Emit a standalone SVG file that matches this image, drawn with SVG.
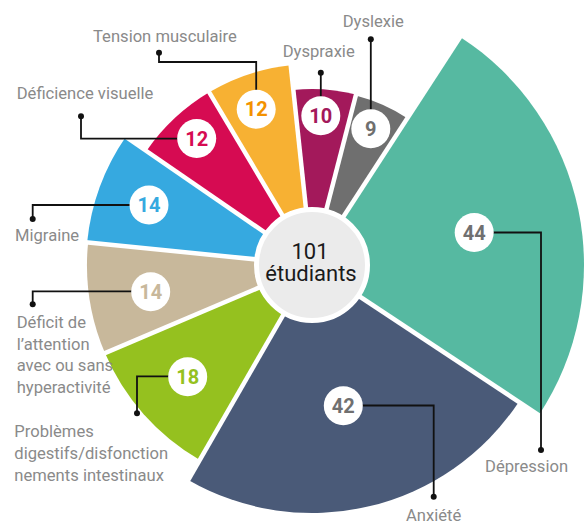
<svg xmlns="http://www.w3.org/2000/svg" width="585" height="523" viewBox="0 0 585 523">
<style>
.lbl{font-family:Roboto,"Liberation Sans",sans-serif;font-size:16.6px;fill:#8a8a8a}
.num{font-family:Roboto,"Liberation Sans",sans-serif;font-size:20px;font-weight:bold;text-anchor:middle}
.bub{fill:#ffffff}
.lead{fill:none;stroke:#111111;stroke-width:1.8}
.dot{fill:#111111}
.sep{stroke:#ffffff;stroke-width:4.5}
.ctr{font-family:Roboto,"Liberation Sans",sans-serif;font-size:22px;fill:#1a1a1a;text-anchor:middle}
</style>
<rect width="585" height="523" fill="#ffffff"/>
<g id="wedges">
<path id="w-depression" d="M312,265 L460.14,36.88 A272,272 0 0 1 538.80,415.15 Z" fill="#56b9a1"/>
<path id="w-anxiete" d="M312,265 L518.79,401.90 A248,248 0 0 1 188.32,479.96 Z" fill="#4a5a78"/>
<path id="w-problemes" d="M312,265 L199.79,460.03 A225,225 0 0 1 104.98,353.12 Z" fill="#95c11f"/>
<path id="w-deficit" d="M312,265 L104.98,353.12 A225,225 0 0 1 88.13,242.48 Z" fill="#c8b89b"/>
<path id="w-migraine" d="M312,265 L87.13,242.38 A226,226 0 0 1 125.83,136.86 Z" fill="#36a9e0"/>
<path id="w-deficience" d="M312,265 L146.43,151.03 A201,201 0 0 1 209.16,92.30 Z" fill="#d60b52"/>
<path id="w-tension" d="M312,265 L209.16,92.30 A201,201 0 0 1 290.69,65.13 Z" fill="#f7b133"/>
<path id="w-dyspraxie" d="M312,265 L293.34,89.99 A176,176 0 0 1 356.02,94.60 Z" fill="#a3195b"/>
<path id="w-dyslexie" d="M312,265 L355.77,95.56 A175,175 0 0 1 407.31,118.23 Z" fill="#6f6f6f"/>
</g>
<g id="separators">
<line class="sep" x1="312" y1="265" x2="464.50" y2="30.17"/>
<line class="sep" x1="312" y1="265" x2="545.48" y2="419.56"/>
<line class="sep" x1="312" y1="265" x2="172.36" y2="507.70"/>
<line class="sep" x1="312" y1="265" x2="54.37" y2="374.66"/>
<line class="sep" x1="312" y1="265" x2="33.41" y2="236.98"/>
<line class="sep" x1="312" y1="265" x2="81.35" y2="106.24"/>
<line class="sep" x1="312" y1="265" x2="168.74" y2="24.42"/>
<line class="sep" x1="312" y1="265" x2="282.31" y2="-13.42"/>
<line class="sep" x1="312" y1="265" x2="382.04" y2="-6.10"/>
</g>
<g id="center">
<circle cx="312" cy="265" r="55.5" fill="#ebebeb" stroke="#ffffff" stroke-width="5"/>
<text class="ctr" x="310" y="258.5">101</text>
<text class="ctr" x="311" y="280.5">étudiants</text>
</g>
<g id="connectors">
<path class="lead" d="M474,232.5 H541 V450"/><circle class="dot" cx="541" cy="450" r="3"/>
<path class="lead" d="M343.3,405.5 H433.7 V496.7"/><circle class="dot" cx="433.7" cy="496.7" r="3"/>
<path class="lead" d="M187.7,376.3 H137 V413.3"/><circle class="dot" cx="137" cy="413.3" r="3"/>
<path class="lead" d="M150.7,291.3 H32.7 V304.3"/><circle class="dot" cx="32.7" cy="304.3" r="3"/>
<path class="lead" d="M149,205 H32.7 V219"/><circle class="dot" cx="32.7" cy="219" r="3"/>
<path class="lead" d="M196.7,138.7 H81 V116.3"/><circle class="dot" cx="81" cy="116.3" r="3"/>
<path class="lead" d="M256.2,109.3 V62 H159 V52.7"/><circle class="dot" cx="159" cy="52.7" r="3"/>
<path class="lead" d="M320.8,115.8 V72.7"/><circle class="dot" cx="320.8" cy="72.7" r="3"/>
<path class="lead" d="M370.8,128.8 V39.3"/><circle class="dot" cx="370.8" cy="39.3" r="3"/>
</g>
<g id="n-depression">
<circle class="bub" cx="474.2" cy="232.5" r="19.5"/>
<text class="num" x="474.2" y="239.5" fill="#707070">44</text>
<text class="lbl" x="485" y="471.7">Dépression</text>
</g>
<g id="n-anxiete">
<circle class="bub" cx="343.3" cy="405.7" r="19.5"/>
<text class="num" x="343.3" y="412.7" fill="#707070">42</text>
<text class="lbl" x="406" y="520.5">Anxiété</text>
</g>
<g id="n-problemes">
<circle class="bub" cx="187.7" cy="376.7" r="19.5"/>
<text class="num" x="187.7" y="383.7" fill="#95c11f">18</text>
<text class="lbl" x="14.3" y="437.3">Problèmes</text>
<text class="lbl" x="14.3" y="459">digestifs/disfonction</text>
<text class="lbl" x="14.3" y="480.5">nements intestinaux</text>
</g>
<g id="n-deficit">
<circle class="bub" cx="150.7" cy="291.7" r="19.5"/>
<text class="num" x="150.7" y="298.7" fill="#c8b89b">14</text>
<text class="lbl" x="16.7" y="327.7">Déficit de</text>
<text class="lbl" x="16.7" y="349.5">l’attention</text>
<text class="lbl" x="16.7" y="371.2">avec ou sans</text>
<text class="lbl" x="16.7" y="392.5">hyperactivité</text>
</g>
<g id="n-migraine">
<circle class="bub" cx="149" cy="205" r="19.5"/>
<text class="num" x="149" y="212" fill="#36a9e0">14</text>
<text class="lbl" x="15" y="240.7">Migraine</text>
</g>
<g id="n-deficience">
<circle class="bub" cx="196.7" cy="138.5" r="19.5"/>
<text class="num" x="196.7" y="145.5" fill="#d60b52">12</text>
<text class="lbl" x="16.7" y="99.3">Déficience visuelle</text>
</g>
<g id="n-tension">
<circle class="bub" cx="256.2" cy="109.3" r="19.5"/>
<text class="num" x="256.2" y="116.3" fill="#f39200">12</text>
<text class="lbl" x="93" y="41.7">Tension musculaire</text>
</g>
<g id="n-dyspraxie">
<circle class="bub" cx="320.8" cy="115.8" r="19.5"/>
<text class="num" x="320.8" y="122.8" fill="#a3195b">10</text>
<text class="lbl" x="282.7" y="57.3">Dyspraxie</text>
</g>
<g id="n-dyslexie">
<circle class="bub" cx="370.8" cy="128.8" r="19.5"/>
<text class="num" x="370.8" y="135.8" fill="#6f6f6f">9</text>
<text class="lbl" x="342.7" y="26.7">Dyslexie</text>
</g>
</svg>
